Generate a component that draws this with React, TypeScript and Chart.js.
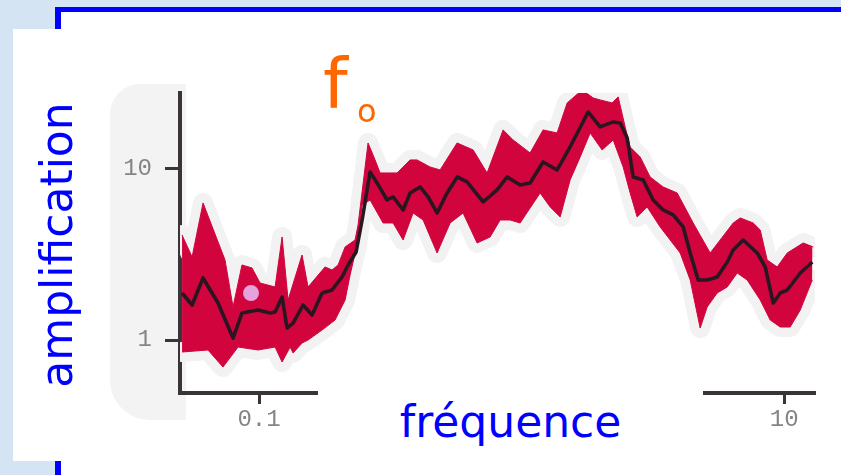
import React, { useEffect, useRef } from 'react';
import { Chart, registerables } from 'chart.js';

Chart.register(...registerables);

// Mean amplification curve (frequency in Hz, amplification)
const MEAN_FREQ = [0.0509, 0.0556, 0.0612, 0.0698, 0.0796, 0.0861, 0.0991, 0.1101, 0.1151, 0.1224, 0.1278, 0.1348, 0.1471, 0.1592, 0.1738, 0.1897, 0.2071, 0.2183, 0.2342, 0.2469, 0.2648, 0.2815, 0.3073, 0.324, 0.3537, 0.376, 0.4105, 0.4404, 0.4765, 0.5201, 0.5679, 0.6199, 0.7134, 0.8067, 0.8806, 0.987, 1.077, 1.207, 1.365, 1.53, 1.792, 1.991, 2.232, 2.373, 2.523, 2.66, 2.904, 3.17, 3.459, 3.777, 4.123, 4.385, 4.703, 5.089, 5.556, 6.067, 6.394, 6.98, 7.89, 8.465, 9.08, 9.66, 10.27, 11.51, 12.79];
const MEAN_AMP = [1.883, 1.602, 2.305, 1.646, 1.027, 1.438, 1.497, 1.438, 1.458, 1.784, 1.175, 1.257, 1.602, 1.4, 1.883, 1.96, 2.336, 2.746, 3.271, 5.031, 9.605, 8.282, 6.587, 6.859, 5.757, 7.237, 7.847, 6.859, 5.529, 7.237, 8.979, 8.395, 6.412, 7.539, 8.979, 8.062, 8.282, 10.99, 9.867, 13.45, 21.54, 17.61, 18.83, 18.58, 15.18, 8.979, 8.625, 6.587, 5.757, 5.383, 4.58, 3.227, 2.243, 2.243, 2.336, 2.858, 3.36, 3.845, 3.227, 2.673, 1.646, 1.883, 1.96, 2.465, 2.858];

// Upper edge of the spread band
const UPPER_FREQ = [0.0509, 0.0556, 0.0612, 0.0742, 0.0796, 0.0861, 0.094, 0.1009, 0.1151, 0.1224, 0.129, 0.1458, 0.1537, 0.1784, 0.1897, 0.2, 0.2127, 0.2321, 0.2383, 0.2601, 0.2766, 0.2891, 0.3356, 0.376, 0.3998, 0.448, 0.4892, 0.5679, 0.6536, 0.7389, 0.8502, 0.9281, 1.077, 1.207, 1.365, 1.491, 1.7, 1.873, 1.991, 2.212, 2.332, 2.479, 2.59, 2.828, 3.086, 3.459, 3.912, 4.501, 5.225, 5.704, 6.394, 6.798, 7.618, 8.103, 8.613, 9.404, 10.27, 11.81, 12.9];
const UPPER_AMP = [4.112, 3.058, 6.327, 2.937, 1.56, 2.746, 2.637, 2.154, 2.041, 4.003, 1.714, 3.141, 2.041, 2.673, 2.567, 2.746, 3.499, 3.845, 4.704, 14.19, 11.29, 9.476, 9.476, 11.29, 11.29, 10.27, 9.867, 14.19, 12.92, 9.476, 16.91, 14.77, 12.41, 16.91, 16.24, 24.32, 28.97, 26.02, 25.33, 24.32, 26.37, 17.61, 13.45, 11.75, 8.979, 7.847, 7.237, 4.833, 3.227, 3.845, 4.833, 5.171, 4.833, 4.398, 2.937, 2.673, 3.227, 3.692, 3.499];

// Lower edge of the spread band
const LOWER_FREQ = [0.0509, 0.0639, 0.0729, 0.0832, 0.0991, 0.1151, 0.1224, 0.1313, 0.1348, 0.1458, 0.1537, 0.1738, 0.1948, 0.2127, 0.2222, 0.2362, 0.2469, 0.2648, 0.2968, 0.324, 0.3537, 0.3861, 0.4215, 0.4765, 0.5342, 0.5984, 0.6768, 0.7586, 0.8282, 0.9041, 0.987, 1.077, 1.176, 1.284, 1.402, 1.53, 1.671, 1.824, 2.026, 2.232, 2.436, 2.59, 2.754, 3.007, 3.37, 3.679, 4.016, 4.385, 4.786, 5.089, 5.556, 6.067, 6.622, 7.228, 8.103, 8.843, 9.66, 10.54, 11.51, 12.79];
const LOWER_AMP = [0.851, 0.874, 0.695, 0.91, 0.874, 0.91, 0.744, 0.91, 0.839, 0.96, 1.0, 1.144, 1.309, 1.714, 2.399, 3.594, 6.159, 6.587, 4.833, 4.833, 3.845, 5.529, 5.031, 3.227, 4.833, 5.529, 3.692, 4.003, 5.031, 5.031, 4.833, 5.914, 7.237, 5.995, 5.241, 8.625, 11.75, 16.24, 12.92, 14.77, 10.27, 7.237, 5.241, 5.995, 4.58, 3.845, 3.227, 2.243, 1.175, 1.56, 1.883, 2.041, 2.465, 2.243, 1.714, 1.309, 1.191, 1.191, 1.497, 2.243];

// Small pink spot on the scan
const BLOB_FREQ = [0.0932];
const BLOB_AMP = [1.88];

const X_TICKS = [0.1, 10];
const X_TICK_LABELS = ['0.1', '10'];
const Y_TICKS = [1, 10];
const Y_TICK_LABELS = ['1', '10'];
const X_RANGE = [0.05, 13.1];
const Y_RANGE = [0.49, 27.8];

const pts = (xs: number[], ys: number[]) => xs.map((x, i) => ({ x, y: ys[i] }));

export default function App() {
  const ref = useRef<HTMLCanvasElement>(null);

  useEffect(() => {
    const canvas = ref.current;
    if (!canvas) return;
    const band = '#d2043e';
    const halo = '#f2f2f2';
    const axisColor = '#3a3438';
    const tickFont = { family: "'Liberation Mono', 'DejaVu Sans Mono', monospace", size: 24 };

    const chart = new Chart(canvas, {
      type: 'line',
      data: {
        datasets: [
          {
            label: 'mean',
            data: pts(MEAN_FREQ, MEAN_AMP),
            borderColor: '#2a1620',
            borderWidth: 3.6,
            pointRadius: 0,
            fill: false,
            order: 2,
            borderJoinStyle: 'round',
          },
          {
            label: 'spot',
            data: pts(BLOB_FREQ, BLOB_AMP),
            showLine: false,
            pointRadius: 8,
            pointBackgroundColor: '#e4a3dc',
            pointBorderWidth: 0,
            order: 1,
          },
          {
            label: 'upper',
            data: pts(UPPER_FREQ, UPPER_AMP),
            borderColor: band,
            backgroundColor: band,
            borderWidth: 1,
            pointRadius: 0,
            fill: 3,
            order: 3,
          },
          {
            label: 'lower',
            data: pts(LOWER_FREQ, LOWER_AMP),
            borderColor: band,
            borderWidth: 1,
            pointRadius: 0,
            fill: false,
            order: 3,
          },
          {
            label: 'haloUpper',
            data: pts(UPPER_FREQ, UPPER_AMP),
            borderColor: halo,
            backgroundColor: halo,
            borderWidth: 20,
            borderJoinStyle: 'round',
            borderCapStyle: 'round',
            pointRadius: 0,
            fill: 5,
            order: 4,
          },
          {
            label: 'haloLower',
            data: pts(LOWER_FREQ, LOWER_AMP),
            borderColor: halo,
            borderWidth: 20,
            borderJoinStyle: 'round',
            borderCapStyle: 'round',
            pointRadius: 0,
            fill: false,
            order: 4,
          },
        ] as any,
      },
      options: {
        animation: false,
        responsive: false,
        maintainAspectRatio: false,
        events: [],
        layout: { padding: { top: 93, right: 26, left: 0, bottom: 0 } },
        plugins: { legend: { display: false }, tooltip: { enabled: false } },
        scales: {
          x: {
            type: 'logarithmic',
            min: X_RANGE[0],
            max: X_RANGE[1],
            afterBuildTicks: (s: any) => {
              s.ticks = X_TICKS.map((v) => ({ value: v }));
            },
            afterFit: (s: any) => {
              s.height = 82;
            },
            border: { display: true, color: axisColor, width: 4 },
            grid: { drawOnChartArea: false, drawTicks: true, tickLength: 11, tickWidth: 3, tickColor: axisColor },
            ticks: {
              color: '#858585',
              font: tickFont,
              padding: 1,
              autoSkip: false,
              maxRotation: 0,
              callback: (_v: any, i: number) => X_TICK_LABELS[i],
            },
          },
          y: {
            type: 'logarithmic',
            min: Y_RANGE[0],
            max: Y_RANGE[1],
            afterBuildTicks: (s: any) => {
              s.ticks = Y_TICKS.map((v) => ({ value: v }));
            },
            afterFit: (s: any) => {
              s.width = 180;
            },
            border: { display: true, color: axisColor, width: 4 },
            grid: { drawOnChartArea: false, drawTicks: true, tickLength: 15, tickWidth: 3, tickColor: axisColor },
            ticks: {
              color: '#858585',
              font: tickFont,
              padding: 13,
              autoSkip: false,
              callback: (_v: any, i: number) => Y_TICK_LABELS[i],
            },
          },
        },
      } as any,
    });
    return () => chart.destroy();
  }, []);

  const comic = "'DejaVu Sans', 'Noto Sans', sans-serif";

  return (
    <div style={{ position: 'fixed', left: 0, top: 0, width: 841, height: 475, overflow: 'hidden', background: '#d5e4f3' }}>
      <div style={{ position: 'absolute', left: 55, top: 7, width: 800, height: 480, borderLeft: '6px solid #0000ff', borderTop: '5px solid #0000ff', background: '#ffffff' }} />
      <div style={{ position: 'absolute', left: 13, top: 29, width: 840, height: 432, background: '#ffffff' }} />
      <div style={{ position: 'absolute', left: 110, top: 84, width: 76, height: 336, background: '#f3f3f3', borderRadius: '30px 0 0 40px' }} />
      <canvas ref={ref} width={841} height={475} style={{ position: 'absolute', left: 0, top: 0, width: 841, height: 475 }} />
      <div style={{ position: 'absolute', left: -103, top: 223, width: 320, height: 44, lineHeight: '44px', fontSize: 44, fontFamily: comic, color: '#0000ff', textAlign: 'center', transform: 'rotate(-90deg)', transformOrigin: 'center center', whiteSpace: 'nowrap' }}>
        amplification
      </div>
      <div style={{ position: 'absolute', left: 323, top: 49, height: 70, lineHeight: '70px', fontSize: 70, fontFamily: comic, color: '#ff6600', whiteSpace: 'nowrap' }}>
        f
        <span style={{ position: 'absolute', left: 34, top: 46, fontSize: 32, lineHeight: '32px' }}>o</span>
      </div>
      <div style={{ position: 'absolute', left: 318, top: 381, width: 385, height: 87, background: '#ffffff', textAlign: 'center', boxSizing: 'border-box', paddingTop: 19 }}>
        <span style={{ fontSize: 44, lineHeight: '44px', fontFamily: comic, color: '#0000ff', display: 'inline-block' }}>fréquence</span>
      </div>
    </div>
  );
}
